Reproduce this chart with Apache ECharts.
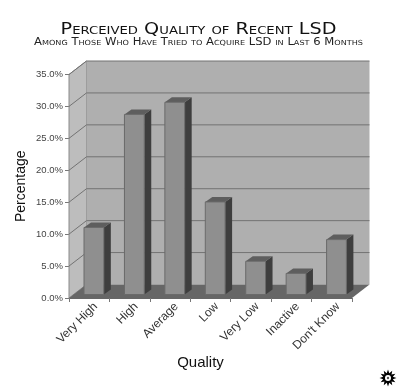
<!DOCTYPE html>
<html>
<head>
<meta charset="utf-8">
<script src="https://cdn.jsdelivr.net/npm/echarts@6/dist/echarts.min.js"></script>
<style>
  html, body { margin: 0; padding: 0; background: #fff; }
  #chart { width: 400px; height: 388px; }
</style>
</head>
<body>
<div id="chart"></div>
<script>
const categories = ['Very High', 'High', 'Average', 'Low', 'Very Low', 'Inactive', "Don't Know"]
const percentages = [10.5, 28.2, 30.1, 14.5, 5.2, 3.3, 8.6]
const yTicks = [0, 5, 10, 15, 20, 25, 30, 35]
const titleText = 'Perceived Quality of Recent LSD'
const subtitleText = 'Among Those Who Have Tried to Acquire LSD in Last 6 Months'

// depth of the fake 3D box, in pixels
const WALL_DX = 17.5
const WALL_DY = -13.5
const BAR_DX = 7
const BAR_DY = -5

const chart = echarts.init(document.getElementById('chart'))

function renderWalls(params, api) {
  const c = params.coordSys
  const left = c.x, right = c.x + c.width, top = c.y, bottom = c.y + c.height
  const children = [
    { type: 'polygon', shape: { points: [[left, bottom], [left, top], [left + WALL_DX, top + WALL_DY], [left + WALL_DX, bottom + WALL_DY]] }, style: { fill: '#bdbdbd', stroke: '#8a8a8a', lineWidth: 1 } },
    { type: 'polygon', shape: { points: [[left + WALL_DX, top + WALL_DY], [right + WALL_DX, top + WALL_DY], [right + WALL_DX, bottom + WALL_DY], [left + WALL_DX, bottom + WALL_DY]] }, style: { fill: '#afafaf' } },
    { type: 'polygon', shape: { points: [[left, bottom], [right, bottom], [right + WALL_DX, bottom + WALL_DY], [left + WALL_DX, bottom + WALL_DY]] }, style: { fill: '#666666' } }
  ]
  yTicks.forEach((t) => {
    if (t === 0) return
    const y = api.coord([0, t])[1]
    children.push({ type: 'polyline', shape: { points: [[left, y], [left + WALL_DX, y + WALL_DY], [right + WALL_DX, y + WALL_DY]] }, style: { fill: null, stroke: '#737373', lineWidth: 1 } })
  })
  return { type: 'group', children }
}

function renderBar(params, api) {
  const base = api.coord([api.value(0), 0])
  const head = api.coord([api.value(0), api.value(1)])
  const band = api.size([1, 0])[0]
  const w = band * 0.49
  // bars sit a little way back on the floor
  const x0 = base[0] - w / 2 + 4.7
  const x1 = x0 + w
  const yb = base[1] - 3.5
  const yt = head[1] - 3.5
  return {
    type: 'group',
    children: [
      { type: 'polygon', shape: { points: [[x1, yb], [x1, yt], [x1 + BAR_DX, yt + BAR_DY], [x1 + BAR_DX, yb + BAR_DY]] }, style: { fill: '#3e3e3e' } },
      { type: 'polygon', shape: { points: [[x0, yt], [x1, yt], [x1 + BAR_DX, yt + BAR_DY], [x0 + BAR_DX, yt + BAR_DY]] }, style: { fill: '#5e5e5e' } },
      { type: 'rect', shape: { x: x0, y: yt, width: w, height: yb - yt }, style: { fill: '#8f8f8f', stroke: '#6a6a6a', lineWidth: 1 } }
    ]
  }
}

// little sun mark in the corner
const sunPoints = []
for (let i = 0; i < 24; i++) {
  const r = i % 2 === 0 ? 8.5 : 5
  const a = i * Math.PI / 12
  sunPoints.push([r * Math.cos(a), r * Math.sin(a)])
}

const option = {
  backgroundColor: '#ffffff',
  animation: false,
  grid: { left: 69, right: 48, top: 74.5, bottom: 90 },
  xAxis: {
    type: 'category',
    data: categories,
    name: 'Quality',
    nameLocation: 'middle',
    nameGap: 57,
    nameMoveOverlap: false,
    nameTextStyle: { fontFamily: 'Liberation Sans', fontSize: 15, color: '#111111', padding: [0, 20, 0, 0] },
    axisLine: { lineStyle: { color: '#666666' } },
    axisTick: { show: true, length: 4, lineStyle: { color: '#777777' } },
    axisLabel: { interval: 0, rotate: 45, margin: 13, fontFamily: 'Liberation Sans', fontSize: 12, color: '#333333', padding: [0, -9, 0, 0] }
  },
  yAxis: {
    type: 'value',
    min: 0,
    max: 35,
    interval: 5,
    name: 'Percentage',
    nameLocation: 'middle',
    nameGap: 41,
    nameMoveOverlap: false,
    nameTextStyle: { fontFamily: 'Liberation Sans', fontSize: 14, color: '#111111' },
    axisLine: { show: true, lineStyle: { color: '#777777' } },
    axisTick: { show: true, length: 4, lineStyle: { color: '#777777' } },
    splitLine: { show: false },
    axisLabel: { margin: 6, fontFamily: 'Liberation Sans', fontSize: 9.5, color: '#444444', formatter: (v) => v.toFixed(1) + '%' }
  },
  series: [
    { type: 'custom', name: 'walls', data: [0], silent: true, z: 1, renderItem: renderWalls, encode: { x: 0, y: 0 }, clip: false },
    { type: 'custom', name: 'Percentage', data: percentages.map((v, i) => [i, v]), z: 2, renderItem: renderBar, encode: { x: 0, y: 1 }, clip: false }
  ],
  graphic: [
    // titles are stretched sideways to get the wide engraved look
    {
      type: 'text',
      x: 198.5,
      y: 30,
      scaleX: 1.2,
      style: { text: titleText, align: 'center', verticalAlign: 'middle', fontFamily: 'DejaVu Sans', fontStyle: 'small-caps', fontSize: 16, fill: '#111111' }
    },
    {
      type: 'text',
      x: 198.5,
      y: 42,
      scaleX: 1.16,
      style: { text: subtitleText, align: 'center', verticalAlign: 'middle', fontFamily: 'DejaVu Sans', fontStyle: 'small-caps', fontSize: 10, fill: '#222222' }
    },
    {
      type: 'group',
      x: 388,
      y: 378,
      children: [
        { type: 'polygon', shape: { points: sunPoints }, style: { fill: '#000000' } },
        { type: 'circle', shape: { cx: 0, cy: 0, r: 3 }, style: { fill: '#ffffff' } },
        { type: 'circle', shape: { cx: 0, cy: 0, r: 1.2 }, style: { fill: '#555555' } }
      ]
    }
  ]
}

chart.setOption(option)
</script>
</body>
</html>
